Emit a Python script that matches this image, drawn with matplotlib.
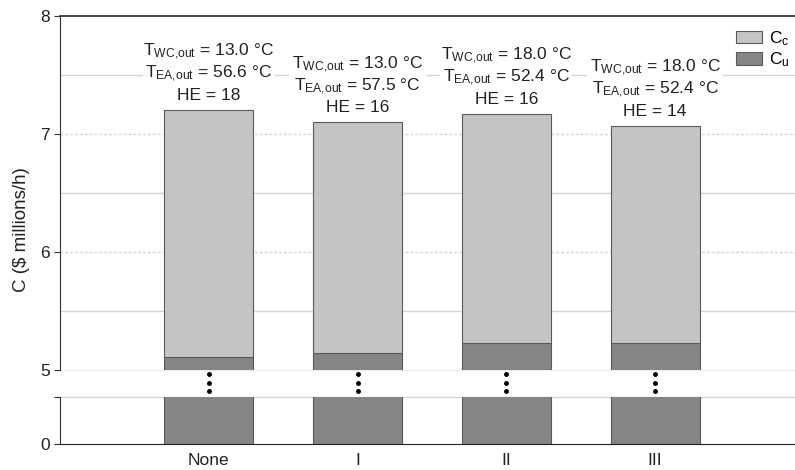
import matplotlib
matplotlib.use('Agg')
import matplotlib.pyplot as plt
import matplotlib.transforms as mtransforms
from matplotlib.patches import Patch

plt.rcParams['font.family'] = ['Liberation Sans', 'DejaVu Sans']
plt.rcParams['mathtext.fontset'] = 'custom'
plt.rcParams['mathtext.rm'] = 'Liberation Sans'
plt.rcParams['mathtext.it'] = 'Liberation Sans:italic'
plt.rcParams['mathtext.bf'] = 'Liberation Sans:bold'

# ---- data ----
categories = ['None', 'I', 'II', 'III']
cu = [5.11, 5.14, 5.23, 5.23]          # utility cost (top of dark segment)
total = [7.21, 7.10, 7.17, 7.07]       # total cost
cc = [t - u for t, u in zip(total, cu)]
t_wc = [13.0, 13.0, 18.0, 18.0]
t_ea = [56.6, 57.5, 52.4, 52.4]
he = [18, 16, 16, 14]

# ---- style ----
col_cc = '#c4c4c4'
col_cu = '#858585'
col_edge = '#5a5a5a'
grid_col = '#d4d4d4'

fig = plt.figure(figsize=(7.95, 4.70), dpi=100)
ax = fig.add_axes([0.0755, 0.2128, 0.9245, 0.7523])
axb = fig.add_axes([0.0755, 0.0547, 0.9245, 0.1013])

x = list(range(len(categories)))
for a in (ax, axb):
    a.bar(x, cu, width=0.6, color=col_cu, edgecolor=col_edge, linewidth=0.8, zorder=2)
    a.bar(x, cc, bottom=cu, width=0.6, color=col_cc, edgecolor=col_edge, linewidth=0.8, zorder=2)
    a.set_xlim(-1.0, 3.94)
    a.spines['right'].set_visible(False)

# upper axis
ax.set_ylim(5, 8)
ax.set_yticks([5, 6, 7, 8])
ax.set_yticklabels(['5', '6', '7', '8'], fontsize=12.5, color='#222222')
ax.spines['bottom'].set_visible(False)
ax.spines['top'].set_color('#222222')
ax.spines['top'].set_linewidth(1.2)
ax.spines['left'].set_color('#333333')
ax.tick_params(axis='x', bottom=False, labelbottom=False)
ax.tick_params(axis='y', direction='out', length=4, color='#333333')
for yv in (5.5, 6.5, 7.5):
    ax.axhline(yv, color=grid_col, lw=1.0, zorder=0)
for yv in (6, 7):
    ax.axhline(yv, color=grid_col, lw=1.0, ls=(0, (2, 1.5)), zorder=0)
ax.axhline(5, color='#ececec', lw=1.0, zorder=0, clip_on=False)

# lower axis
axb.set_ylim(0, 1)
axb.set_yticks([0, 1])
axb.set_yticklabels(['0', ''], fontsize=12.5, color='#222222')
axb.spines['top'].set_visible(False)
axb.spines['bottom'].set_color('#222222')
axb.spines['left'].set_color('#333333')
axb.axhline(1, color=grid_col, lw=1.0, zorder=0, clip_on=False)
axb.set_xticks(x)
axb.set_xticklabels(categories, fontsize=12.5, color='#222222')
axb.tick_params(axis='x', direction='in', length=3, pad=6, color='#333333')
axb.tick_params(axis='y', direction='out', length=4, color='#333333')

# break dots between the two axes
gap_top = 0.2128
gap_bot = 0.1560
trans = mtransforms.blended_transform_factory(ax.transData, fig.transFigure)
for xi in x:
    for frac in (0.15, 0.47, 0.79):
        yy = gap_top - frac * (gap_top - gap_bot)
        ax.plot([xi], [yy], 'o', color='black', ms=2.5, transform=trans, clip_on=False, zorder=6)

# annotations
bb = dict(boxstyle='square,pad=0.15', fc='white', ec='none')
for xi, tot, w, e, h in zip(x, total, t_wc, t_ea, he):
    lines = [(r'T$_{\mathregular{WC{,}out}}$ = %.1f °C' % w, 54),
             (r'T$_{\mathregular{EA{,}out}}$ = %.1f °C' % e, 32),
             ('HE = %d' % h, 10)]
    for txt, off_px in lines:
        ax.annotate(txt, xy=(xi, tot), xytext=(0, off_px * 0.72), textcoords='offset points',
                    ha='center', va='baseline', fontsize=12.5, color='#222222',
                    bbox=bb, zorder=5)

# y label
fig.text(22 / 795, 1 - 230 / 470, 'C ($ millions/h)', rotation=90, ha='center', va='center',
         fontsize=13.5, color='#222222')

# legend
handles = [Patch(facecolor=col_cc, edgecolor=col_edge, linewidth=0.8),
           Patch(facecolor=col_cu, edgecolor=col_edge, linewidth=0.8)]
fig.legend(handles, [r'C$_{\mathregular{c}}$', r'C$_{\mathregular{u}}$'], loc='upper left',
           bbox_to_anchor=(736 / 795, 1 - 29 / 470), borderaxespad=0, borderpad=0,
           frameon=False, fontsize=12.5, handlelength=1.5, handleheight=0.75,
           labelspacing=0.15, handletextpad=0.4)

fig.savefig('out.png', dpi=100)
